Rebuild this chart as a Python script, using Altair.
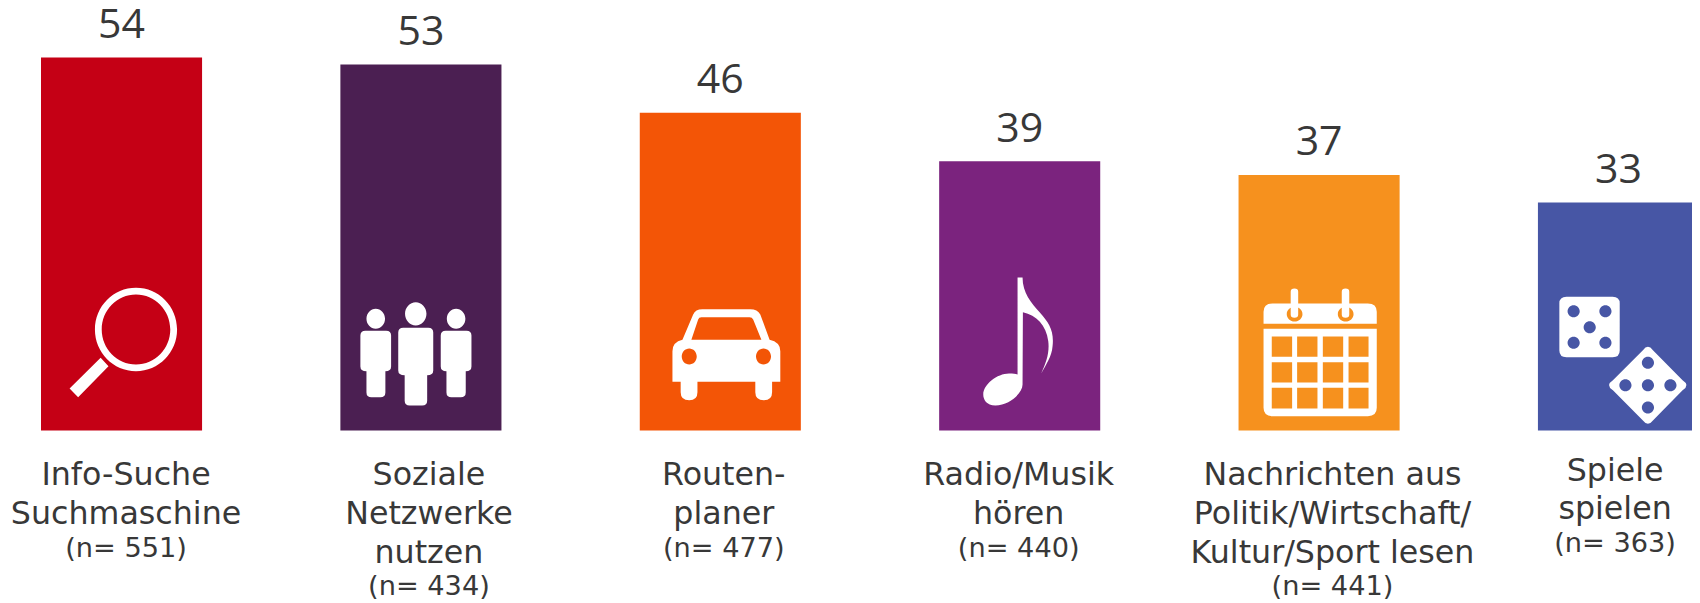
import re
import altair as alt
import pandas as pd

categories = ["Info", "Soziale", "Routen", "Radio", "Nachrichten", "Spiele"]
values = [54, 53, 46, 39, 37, 33]
colors = ["#C50015", "#4B1F52", "#F35506", "#7B237E", "#F6911E", "#4756A5"]
label_lines = [
    ["Info-Suche", "Suchmaschine"],
    ["Soziale", "Netzwerke", "nutzen"],
    ["Routen-", "planer"],
    ["Radio/Musik", "hören"],
    ["Nachrichten aus", "Politik/Wirtschaft/", "Kultur/Sport lesen"],
    ["Spiele", "spielen"],
]
sample_sizes = [551, 434, 477, 440, 441, 363]
label_dx = [4.5, 8, 3.5, -1, 13.4, -3.4]
label_first_baseline = [485, 485, 485, 485, 485, 480.5]
LINE_STEP = 38.8
N_GAP = 32.8
TXT = "#383838"

KAPPA = 0.5523


def ell(cx, cy, rx, ry, cw=True):
    kx, ky = rx * KAPPA, ry * KAPPA
    if cw:
        return (f"M {cx},{cy-ry} C {cx+kx},{cy-ry} {cx+rx},{cy-ky} {cx+rx},{cy} "
                f"C {cx+rx},{cy+ky} {cx+kx},{cy+ry} {cx},{cy+ry} "
                f"C {cx-kx},{cy+ry} {cx-rx},{cy+ky} {cx-rx},{cy} "
                f"C {cx-rx},{cy-ky} {cx-kx},{cy-ry} {cx},{cy-ry} Z ")
    return (f"M {cx},{cy-ry} C {cx-kx},{cy-ry} {cx-rx},{cy-ky} {cx-rx},{cy} "
            f"C {cx-rx},{cy+ky} {cx-kx},{cy+ry} {cx},{cy+ry} "
            f"C {cx+kx},{cy+ry} {cx+rx},{cy+ky} {cx+rx},{cy} "
            f"C {cx+rx},{cy-ky} {cx+kx},{cy-ry} {cx},{cy-ry} Z ")


def hole(x0, y0, x1, y1):
    return f"M {x0},{y0} L {x0},{y1} L {x1},{y1} L {x1},{y0} Z "


def person(cx, head_ry, head_cy, head_rx, x0, x1, yt, yb, lx0, lx1, yf, r=14):
    return (ell(cx, head_cy, head_rx, head_ry) +
            f"M {x0+r},{yt} L {x1-r},{yt} Q {x1},{yt} {x1},{yt+r} L {x1},{yb-r} Q {x1},{yb} {lx1},{yb} "
            f"L {lx1},{yf-r} Q {lx1},{yf} {lx1-r},{yf} L {lx0+r},{yf} Q {lx0},{yf} {lx0},{yf-r} "
            f"L {lx0},{yb} Q {x0},{yb} {x0},{yb-r} L {x0},{yt+r} Q {x0},{yt} {x0+r},{yt} Z ")


def to_units(path, cx, cy=513):
    out, n = [], 0
    for tok in re.findall(r"[A-Za-z]|-?\d+\.?\d*", path):
        if tok.isalpha():
            out.append(tok)
            n = 0
        else:
            v = float(tok)
            v = (v - cx) / 2.8 / 100 if n % 2 == 0 else (v - cy) / 3 / 100
            out.append(f"{v:.4f}")
            n += 1
    return " ".join(out)


icon_search = (ell(381, 210, 115, 125) + ell(381, 210, 96, 105, cw=False) +
               "M 282,295 L 304,320 L 219,413 L 195,387 Z")

icon_people = (person(1051, 30, 178, 26, 1008, 1094, 214, 335, 1025, 1078, 413) +
               person(1163, 35, 163, 30, 1114, 1212, 205, 347, 1132, 1195, 438) +
               person(1276, 30, 178, 26, 1233, 1319, 214, 335, 1249, 1303, 413))

icon_car = ("M 314,367 L 314,275 Q 314,248 342,241 L 372,165 Q 378,149 398,149 L 532,149 Q 552,149 560,165 "
            "L 586,241 Q 616,248 616,275 L 616,367 L 593,367 L 593,398 Q 593,422 570,422 Q 546,422 546,398 "
            "L 546,367 L 384,367 L 384,398 Q 384,422 361,422 Q 337,422 337,398 L 337,367 Z "
            "M 367,241 L 563,241 L 540,180 Q 537,173 530,173 L 395,173 Q 388,173 386,180 Z " +
            ell(361, 291, 21, 24, cw=False) + ell(569, 291, 21, 24, cw=False))

icon_note = ("M 1282,54 L 1296,54 C 1296,100 1320,130 1345,160 C 1370,190 1385,215 1380,260 "
             "C 1378,290 1362,315 1348,342 C 1362,310 1372,280 1368,245 C 1362,195 1335,168 1297,158 "
             "L 1296,375 C 1296,400 1260,438 1220,438 C 1195,438 1186,420 1186,405 "
             "C 1186,375 1225,342 1258,342 C 1270,342 1276,343 1282,345 Z")

icon_cal = ("M 347,193 L 347,157 Q 347,132 372,132 L 639,132 Q 664,132 664,157 L 664,193 Z " +
            ell(434, 164, 22, 22, cw=False) + ell(577, 164, 22, 22, cw=False) +
            "M 423,97 Q 423,87 433.5,87 Q 444,87 444,97 L 444,165 Q 444,175 433.5,175 Q 423,175 423,165 Z " +
            "M 566,97 Q 566,87 576.5,87 Q 587,87 587,97 L 587,165 Q 587,175 576.5,175 Q 566,175 566,165 Z " +
            "M 347,208 L 664,208 L 664,445 Q 664,470 639,470 L 372,470 Q 347,470 347,445 Z ")
for yy0, yy1 in [(231, 292), (308, 369), (385, 447)]:
    for xx0, xx1 in [(370, 427), (441, 498), (513, 570), (585, 641)]:
        icon_cal += hole(xx0, yy0, xx1, yy1)

icon_dice = ("M 1194,112 L 1323,112 Q 1343,112 1343,132 L 1343,273 Q 1343,293 1323,293 L 1194,293 "
             "Q 1174,293 1174,273 L 1174,132 Q 1174,112 1194,112 Z ")
for px, py in [(1214, 155), (1303, 155), (1259, 203), (1214, 250), (1303, 250)]:
    icon_dice += ell(px, py, 17, 18, cw=False)
icon_dice += ("M 1408,272 Q 1422,252 1436,272 L 1519,362 Q 1541,377 1519,392 L 1436,483 "
              "Q 1422,503 1408,483 L 1324,392 Q 1302,377 1324,362 Z ")
for px, py in [(1422, 310), (1359, 377), (1422, 377), (1485, 377), (1422, 444)]:
    icon_dice += ell(px, py, 17, 18, cw=False)

icons = [
    to_units(icon_search, 340.5),
    to_units(icon_people, 1177.5),
    to_units(icon_car, 448),
    to_units(icon_note, 1288),
    to_units(icon_cal, 502.5),
    to_units(icon_dice, 1339.5),
]

df = pd.DataFrame({"cat": categories, "value": values, "color": colors, "icon": icons, "zero": [0] * 6})

x = alt.X("cat:N", sort=None, axis=None,
          scale=alt.Scale(range=[33, 1691], paddingInner=0.462, paddingOuter=0, round=False))
y_scale = alt.Scale(domain=[0, 54], range=[422.5, 49.6])
y = alt.Y("value:Q", axis=None, scale=y_scale)

base = alt.Chart(df)
bars = base.mark_bar().encode(x=x, y=y, color=alt.Color("color:N", scale=None))
nums = base.mark_text(font="Open Sans", fontSize=41, color=TXT, baseline="alphabetic", dy=-19.5).encode(
    x=x, y=y, text="value:Q")
glyphs = base.mark_point(filled=True, color="white", opacity=1, size=40000, strokeWidth=0).encode(
    x=x, y=alt.Y("zero:Q", axis=None, scale=y_scale),
    shape=alt.Shape("icon:N", scale=None))

layers = [bars, nums, glyphs]
for i, cat in enumerate(categories):
    rows = pd.DataFrame({"cat": [cat]})
    yy = label_first_baseline[i]
    for line in label_lines[i]:
        layers.append(alt.Chart(rows).mark_text(
            font="DejaVu Sans", fontSize=31.7, color=TXT, baseline="alphabetic", dx=label_dx[i]
        ).encode(x=x, y=alt.value(yy - 8), text=alt.value(line)))
        yy += LINE_STEP
    yy = yy - LINE_STEP + N_GAP
    layers.append(alt.Chart(rows).mark_text(
        font="DejaVu Sans", fontSize=27.2, color=TXT, baseline="alphabetic", dx=label_dx[i]
    ).encode(x=x, y=alt.value(yy - 8), text=alt.value(f"(n= {sample_sizes[i]})")))

chart = alt.layer(*layers).properties(
    width=1684, height=595, padding=0, background="white", autosize=alt.AutoSizeParams(type="none")
).configure_view(stroke=None)

chart.save("out.html", embed_options={"renderer": "svg", "actions": False})
